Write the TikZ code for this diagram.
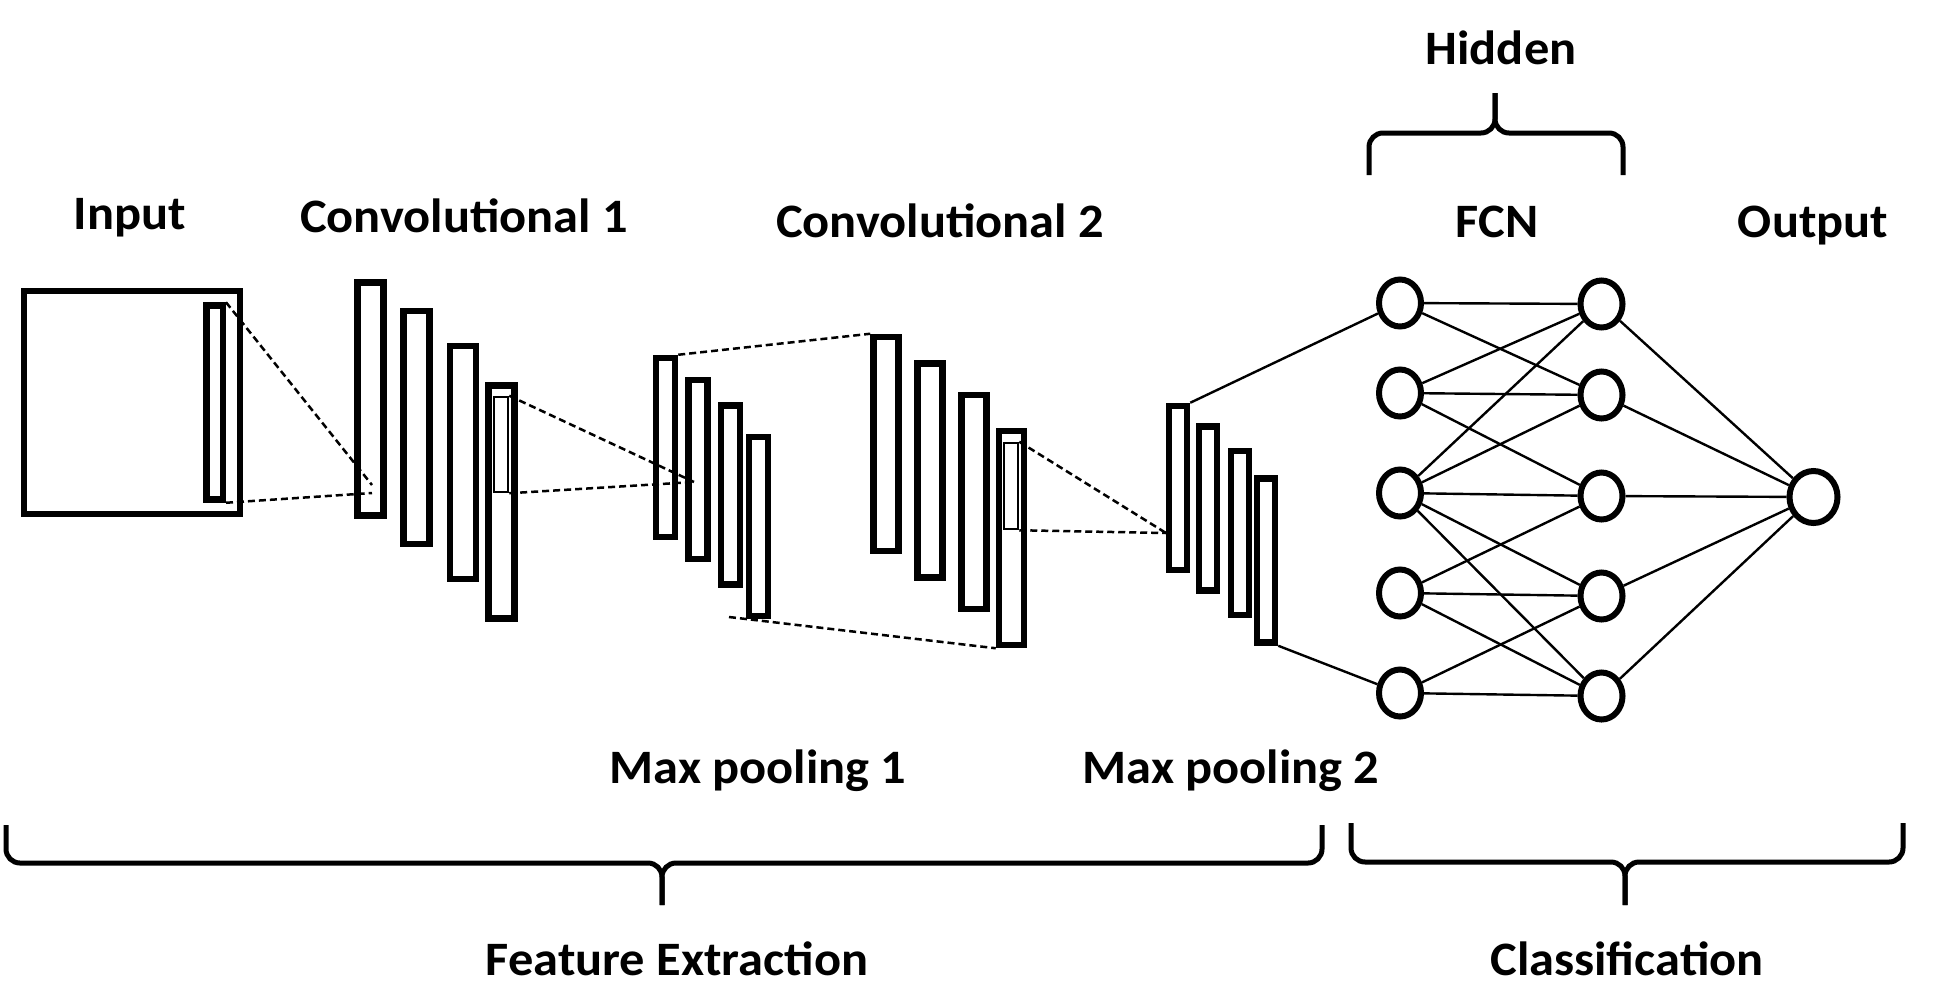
\documentclass[tikz,border=0pt]{standalone}
\usepackage{fontspec}
\setmainfont{Carlito}
\usepackage{tikz}
\usetikzlibrary{shapes.geometric}

\begin{document}
\begin{tikzpicture}[x=1pt, y=-1pt,
  layer/.style={draw, rectangle, line width=6.5pt, inner sep=0pt},
  convA/.style={layer, minimum width=26pt, minimum height=233pt},
  poolA/.style={layer, minimum width=19pt, minimum height=179pt},
  convB/.style={layer, minimum width=25pt, minimum height=214pt},
  poolB/.style={layer, minimum width=18pt, minimum height=164pt},
  window/.style={draw, rectangle, line width=2.5pt, inner sep=0pt},
  unit/.style={draw, ellipse, line width=6pt, inner sep=0pt, minimum width=42pt, minimum height=47pt},
  link/.style={line width=2.4pt},
  field/.style={line width=2.5pt, dash pattern=on 7pt off 4pt},
  brace/.style={line width=5pt, rounded corners=14pt},
  lbl/.style={font=\bfseries\fontsize{48}{50}\selectfont, anchor=base, xscale=1.05}]

\useasboundingbox (0,0) rectangle (1952,1002);

% Input image and its window
\node [layer, minimum width=216pt, minimum height=223pt] (img) at (132,402.5) {};
\node [layer, minimum width=16.5pt, minimum height=194pt] (inw) at (214.5,402.5) {};

% Convolutional 1 maps
\node [convA] (c1a) at (370.5,399) {};
\node [convA] (c1b) at (416.5,427.5) {};
\node [convA] (c1c) at (463,462.5) {};
\node [convA] (c1d) at (501.5,502) {};
\node [window, minimum width=14pt, minimum height=95pt] (w1) at (501,444.5) {};

% Max pooling 1 maps
\node [poolA] (p1a) at (665.5,447.5) {};
\node [poolA] (p1b) at (698,469.5) {};
\node [poolA] (p1c) at (730.5,495) {};
\node [poolA] (p1d) at (758.5,526.5) {};

% Convolutional 2 maps
\node [convB] (c2a) at (886,444) {};
\node [convB] (c2b) at (930,470.5) {};
\node [convB] (c2c) at (974,502) {};
\node [convB] (c2d) at (1011.5,538) {};
\node [window, minimum width=14pt, minimum height=86pt] (w2) at (1011,486) {};

% Max pooling 2 maps
\node [poolB] (p2a) at (1178,488) {};
\node [poolB] (p2b) at (1208,508.5) {};
\node [poolB] (p2c) at (1240,533) {};
\node [poolB] (p2d) at (1266,560.5) {};

% Dashed receptive fields
\coordinate (f1) at (372,485);
\coordinate (f2) at (372,493);
\coordinate (f3) at (694,482);
\coordinate (f4) at (729,617);
\coordinate (f5) at (1166,533);
\draw [field] (inw.north east) -- (f1);
\draw [field] (inw.south east) -- (f2);
\draw [field] (w1.north east) -- (f3);
\draw [field] (w1.south east) -- (f3);
\draw [field] (p1a.north east) -- (c2a.north west);
\draw [field] (f4) -- (c2d.south west);
\draw [field] (w2.north east) -- (f5);
\draw [field] (w2.south east) -- (f5);

% Fully connected units
\node [unit] (fa1) at (1400,303) {};
\node [unit] (fa2) at (1400,393) {};
\node [unit] (fa3) at (1400,493) {};
\node [unit] (fa4) at (1400,593) {};
\node [unit] (fa5) at (1400,693) {};
\node [unit] (fb1) at (1601.5,304) {};
\node [unit] (fb2) at (1601.5,395) {};
\node [unit] (fb3) at (1601.5,496) {};
\node [unit] (fb4) at (1601.5,596) {};
\node [unit] (fb5) at (1601.5,696) {};
\node [unit, minimum width=48pt, minimum height=52pt] (out) at (1813.5,497) {};

% Links into the FCN
\draw [link] (p2a.north east) -- (fa1);
\draw [link] (p2d.south east) -- (fa5);

% Links between hidden units
\draw [link] (fa1) -- (fb1);
\draw [link] (fa1) -- (fb2);
\draw [link] (fa2) -- (fb1);
\draw [link] (fa2) -- (fb2);
\draw [link] (fa2) -- (fb3);
\draw [link] (fa3) -- (fb1);
\draw [link] (fa3) -- (fb2);
\draw [link] (fa3) -- (fb3);
\draw [link] (fa3) -- (fb4);
\draw [link] (fa3) -- (fb5);
\draw [link] (fa4) -- (fb3);
\draw [link] (fa4) -- (fb4);
\draw [link] (fa4) -- (fb5);
\draw [link] (fa5) -- (fb4);
\draw [link] (fa5) -- (fb5);

% Links to the output
\draw [link] (fb1) -- (out);
\draw [link] (fb2) -- (out);
\draw [link] (fb3) -- (out);
\draw [link] (fb4) -- (out);
\draw [link] (fb5) -- (out);

% Braces
\draw [brace] (1369,175) |- (1495,133) -- (1495,93);
\draw [brace] (1623,175) |- (1495,133) -- (1495,93);
\draw [brace] (6,825) |- (662,863) -- (662,905);
\draw [brace] (1322,825) |- (662,863) -- (662,905);
\draw [brace] (1351,823) |- (1625,862) -- (1625,905);
\draw [brace] (1903,823) |- (1625,862) -- (1625,905);

% Labels
\node [lbl] (lInput) at (130,229) {Input};
\node [lbl] (lConv1) at (464,232) {Convolutional 1};
\node [lbl] (lConv2) at (940,237) {Convolutional 2};
\node [lbl] (lHidden) at (1501,64) {Hidden};
\node [lbl] (lFCN) at (1497,237) {FCN};
\node [lbl] (lOutput) at (1813,237) {Output};
\node [lbl] (lPool1) at (758,783) {Max pooling 1};
\node [lbl] (lPool2) at (1231,783) {Max pooling 2};
\node [lbl] (lFeat) at (677,975) {Feature Extraction};
\node [lbl] (lClass) at (1627,975) {Classification};

\end{tikzpicture}
\end{document}
